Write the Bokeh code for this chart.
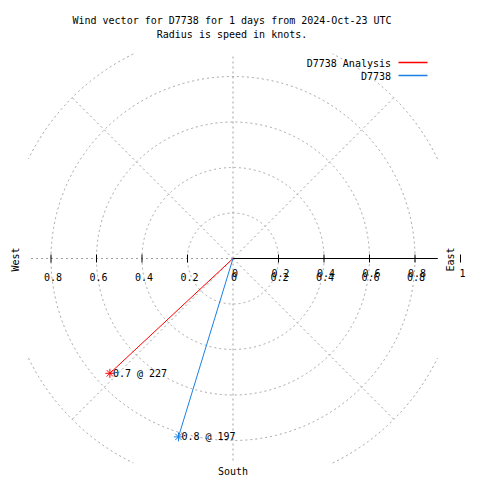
import numpy as np
from bokeh.plotting import figure
from bokeh.models import Range1d
from bokeh.core.properties import value
from bokeh.embed import file_html
from bokeh.resources import INLINE

# ---- data ----
title_lines = ["Wind vector for D7738 for 1 days from 2024-Oct-23 UTC",
               "Radius is speed in knots."]
series_names = ["D7738 Analysis", "D7738"]
series_colors = ["#ff0000", "#1a80e6"]
speeds = [0.74, 0.82]          # knots
directions = [227, 197]        # degrees, clockwise from north
grid_radii = [0.2, 0.4, 0.6, 0.8, 1.0]
grid_angles = [0, 45, 90, 135, 180, 225, 270, 315]
right_ticks = [0.0, 0.2, 0.4, 0.6, 0.8, 1.0]
right_tick_labels = ["0", "0.2", "0.4", "0.6", "0.8", "1"]
left_ticks = [0.8, 0.6, 0.4, 0.2]
left_tick_labels = ["0.8", "0.6", "0.4", "0.2"]
rmax = 0.9

# ---- geometry ----
W = H = 480
SCALE = 227.5
CX, CY = 232.5, 258.0
FONT = value("DejaVu Sans Mono")
FS = "10px"
GRID = "#a0a0a0"


def dx(px):
    return (px - CX) / SCALE


def dy(py):
    return (CY - py) / SCALE


p = figure(width=W, height=H, x_range=Range1d(dx(0), dx(W)),
           y_range=Range1d(dy(H), dy(0)), output_backend="svg",
           toolbar_location=None, x_axis_type=None, y_axis_type=None,
           min_border=0, min_border_left=0, min_border_right=0,
           min_border_top=0, min_border_bottom=0)
p.grid.visible = False
p.outline_line_color = None
p.background_fill_color = "white"
p.border_fill_color = "white"

# grid circles, clipped to the square window
th = np.linspace(0, 2 * np.pi, 1441)
for r in grid_radii:
    x = r * np.cos(th)
    y = r * np.sin(th)
    m = (np.abs(x) <= rmax) & (np.abs(y) <= rmax)
    x = np.where(m, x, np.nan)
    y = np.where(m, y, np.nan)
    p.line(x, y, line_color=GRID, line_dash="2 3", line_width=1)

# radial grid lines
for a in grid_angles:
    ar = np.radians(a)
    c, s = np.cos(ar), np.sin(ar)
    rr = min(1.0, rmax / max(abs(c), abs(s)))
    p.line([0, rr * c], [0, rr * s], line_color=GRID, line_dash="2 3", line_width=1)

# east axis
p.line([0, rmax], [0, 0], line_color="black", line_width=1)
tk = 4 / SCALE
rt = [t for t in right_ticks if t > 0]
p.segment(x0=rt, y0=[-tk] * len(rt), x1=rt, y1=[tk] * len(rt), line_color="black")
p.segment(x0=[-t for t in left_ticks], y0=[-tk] * len(left_ticks),
          x1=[-t for t in left_ticks], y1=[tk] * len(left_ticks), line_color="black")

# tick labels
p.text(x=right_ticks, y=[0] * len(right_ticks), text=right_tick_labels,
       x_offset=2, y_offset=14, text_align="center", text_baseline="middle",
       text_font=FONT, text_font_size=FS, text_color="black")
p.text(x=right_ticks[:-1], y=[0] * (len(right_ticks) - 1), text=right_tick_labels[:-1],
       x_offset=1, y_offset=18, text_align="center", text_baseline="middle",
       text_font=FONT, text_font_size=FS, text_color="black")
p.text(x=[-t for t in left_ticks], y=[0] * len(left_ticks), text=left_tick_labels,
       x_offset=2, y_offset=18, text_align="center", text_baseline="middle",
       text_font=FONT, text_font_size=FS, text_color="black")

# compass labels
p.text(x=[dx(15)], y=[dy(259)], text=["West"], angle=np.pi / 2,
       text_align="center", text_baseline="middle", text_font=FONT,
       text_font_size=FS, text_color="black")
p.text(x=[dx(450)], y=[dy(259)], text=["East"], angle=np.pi / 2,
       text_align="center", text_baseline="middle", text_font=FONT,
       text_font_size=FS, text_color="black")
p.text(x=[0], y=[dy(471)], text=["South"], text_align="center",
       text_baseline="middle", text_font=FONT, text_font_size=FS, text_color="black")

# title
p.text(x=[dx(231.5), dx(231.5)], y=[dy(20), dy(33.5)], text=title_lines,
       text_align="center", text_baseline="middle", text_font=FONT,
       text_font_size=FS, text_color="black")

# wind vectors
for s, d, col in zip(speeds, directions, series_colors):
    x = s * np.sin(np.radians(d))
    y = s * np.cos(np.radians(d))
    p.line([0, x], [0, y], line_color=col, line_width=1)
    p.scatter([x], [y], marker="asterisk", size=9, line_color=col, line_width=1)
    p.text(x=[x], y=[y], text=[f"{s:.1f} @ {d}"], x_offset=3,
           text_align="left", text_baseline="middle", text_font=FONT,
           text_font_size=FS, text_color="black")

# legend
ly = [62.5, 75.5]
p.text(x=[dx(390.5)] * 2, y=[dy(v) for v in ly], text=series_names,
       text_align="right", text_baseline="middle", text_font=FONT,
       text_font_size=FS, text_color="black")
p.segment(x0=[dx(398)] * 2, y0=[dy(v - 0.5) for v in ly],
          x1=[dx(427)] * 2, y1=[dy(v - 0.5) for v in ly],
          line_color=series_colors, line_width=1.5)

open("out.html", "w").write(file_html(p, INLINE))
